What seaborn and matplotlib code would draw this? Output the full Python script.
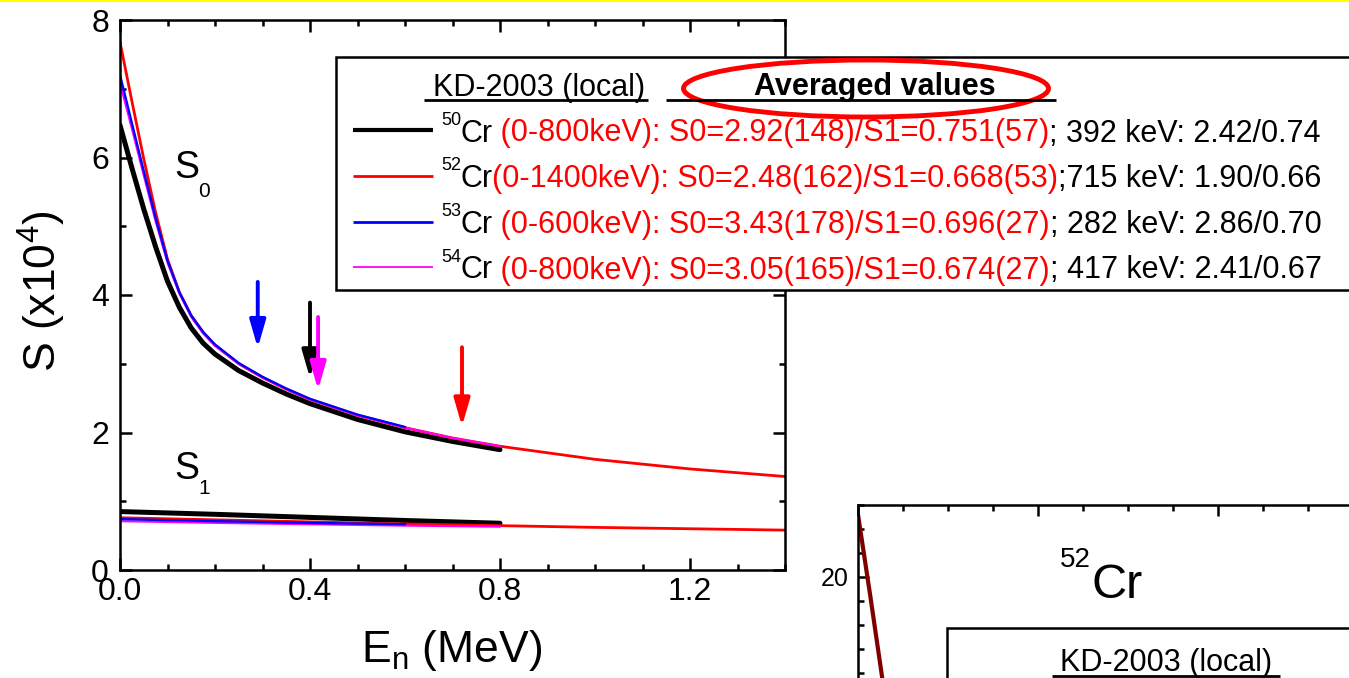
import numpy as np
import pandas as pd
import matplotlib
matplotlib.use("Agg")
import matplotlib.pyplot as plt
import seaborn as sns
from matplotlib.patches import Rectangle, Ellipse
from matplotlib.ticker import MultipleLocator, FormatStrFormatter, FixedLocator

# ------------------------------------------------------------------ data
isotopes = ["50", "52", "53", "54"]
colors = ["#000000", "#ff0000", "#0000ff", "#ff00ff"]
range_keV = [800, 1400, 600, 800]
S0_fit = ["2.92(148)", "2.48(162)", "3.43(178)", "3.05(165)"]
S1_fit = ["0.751(57)", "0.668(53)", "0.696(27)", "0.674(27)"]
E_avg_keV = [392, 715, 282, 417]
S0_avg = ["2.42", "1.90", "2.86", "2.41"]
S1_avg = ["0.74", "0.66", "0.70", "0.67"]

# S0 curves (x10^4) vs E (MeV)
E_grid = [0, 0.025, 0.05, 0.075, 0.1, 0.125, 0.15, 0.175, 0.2, 0.25, 0.3,
          0.35, 0.4, 0.5, 0.6, 0.7, 0.8, 1.0, 1.2, 1.4]
S0_50 = [6.47, 5.85, 5.25, 4.70, 4.20, 3.82, 3.52, 3.30, 3.14, 2.90, 2.72,
         2.56, 2.42, 2.19, 2.01, 1.87, 1.75]
S0_52 = [7.68, 6.82, 5.98, 5.20, 4.52, 4.04, 3.70, 3.46, 3.27, 3.00, 2.80,
         2.63, 2.48, 2.25, 2.07, 1.92, 1.80, 1.61, 1.47, 1.36]
S0_53 = [7.20, 6.50, 5.80, 5.12, 4.50, 4.04, 3.70, 3.46, 3.28, 3.01, 2.81,
         2.64, 2.49, 2.26, 2.08]
S0_54 = [7.08, 6.42, 5.74, 5.07, 4.47, 4.02, 3.68, 3.44, 3.26, 3.00, 2.80,
         2.63, 2.48, 2.25, 2.07, 1.92, 1.80]

# S1 curves (x10^4)
E_s1 = [0, 0.2, 0.4, 0.6, 0.8, 1.0, 1.2, 1.4]
S1_50 = [0.85, 0.81, 0.765, 0.72, 0.68]
S1_52 = [0.76, 0.73, 0.70, 0.67, 0.645, 0.62, 0.60, 0.58]
S1_53 = [0.74, 0.71, 0.685, 0.665]
S1_54 = [0.71, 0.685, 0.665, 0.645, 0.63]

# arrows marking averaging energies (position in MeV, tail / tip in S units)
arrow_E = [0.40, 0.72, 0.29, 0.417]
arrow_top = [3.89, 3.24, 4.19, 3.68]
arrow_tip = [2.79, 2.09, 3.23, 2.62]

# second panel (52Cr)
E2 = [0, 0.027, 0.06]
S2 = [22.6, 19.25, 15.0]

S0_all = [S0_50, S0_52, S0_53, S0_54]
S1_all = [S1_50, S1_52, S1_53, S1_54]

rows = []
for iso, s0, s1 in zip(isotopes, S0_all, S1_all):
    for e, v in zip(E_grid, s0):
        rows.append(dict(iso=iso, kind="S0", E=e, S=v))
    for e, v in zip(E_s1, s1):
        rows.append(dict(iso=iso, kind="S1", E=e, S=v))
df = pd.DataFrame(rows)

# ------------------------------------------------------------------ style
sns.set_theme(style="ticks")
plt.rcParams["font.family"] = ["Liberation Sans", "DejaVu Sans"]
plt.rcParams["mathtext.fontset"] = "custom"
plt.rcParams["mathtext.rm"] = "Liberation Sans"
plt.rcParams["mathtext.it"] = "Liberation Sans:italic"
plt.rcParams["mathtext.bf"] = "Liberation Sans:bold"
plt.rcParams["axes.linewidth"] = 1.8
TICKFONT = ["Liberation Sans Narrow", "Liberation Sans"]

W, H = 1349, 678
fig = plt.figure(figsize=(W / 100, H / 100), dpi=100)
fig.patch.set_facecolor("white")


def fpos(l, t, r, b):
    return [l / W, 1 - b / H, (r - l) / W, (b - t) / H]


# ------------------------------------------------------------------ main axes
ax = fig.add_axes(fpos(120, 20, 785, 570))
ax.set_facecolor("white")
lw_map = {"50": 3.6, "52": 2.0, "53": 1.7, "54": 1.5}
order = ["50", "52", "54", "53"]
for kind in ["S0", "S1"]:
    for iso in order:
        sub = df[(df.iso == iso) & (df.kind == kind)]
        sns.lineplot(data=sub, x="E", y="S", ax=ax, color=colors[isotopes.index(iso)],
                     lw=lw_map[iso], estimator=None, sort=False, legend=False)

for i, iso in enumerate(isotopes):
    e = arrow_E[i]
    ax.annotate("", xy=(e, arrow_tip[i]), xytext=(e, arrow_top[i]),
                arrowprops=dict(arrowstyle="-|>,head_length=0.83,head_width=0.24",
                                mutation_scale=20, lw=2.8, color=colors[i],
                                shrinkA=0, shrinkB=0))

ax.set_xlim(0, 1.4)
ax.set_ylim(0, 8)
ax.xaxis.set_major_locator(MultipleLocator(0.4))
ax.xaxis.set_minor_locator(MultipleLocator(0.1))
ax.yaxis.set_major_locator(MultipleLocator(2))
ax.yaxis.set_minor_locator(MultipleLocator(1))
ax.xaxis.set_major_formatter(FormatStrFormatter("%.1f"))
ax.yaxis.set_major_formatter(FormatStrFormatter("%d"))
ax.tick_params(which="both", direction="in", top=True, right=True, width=1.8,
               colors="black", labelsize=23, labelfontfamily=TICKFONT)
ax.tick_params(which="major", length=8.6)
ax.tick_params(which="minor", length=4.3)
ax.tick_params(axis="x", pad=5)
ax.tick_params(axis="y", pad=8)
for sp in ax.spines.values():
    sp.set_color("black")
    sp.set_linewidth(1.8)

ax.set_xlabel(r"E$_{\mathrm{n}}$ (MeV)", fontsize=32, color="black")
ax.set_ylabel(r"S (x10$^{4}$)", fontsize=32, color="black")
ax.xaxis.set_label_coords(0.499, -0.105)
ax.yaxis.set_label_coords(-0.078, 0.507)

ax.text(0.1137, 5.70, "S", fontsize=27, va="baseline", ha="left", color="black")
ax.text(0.164, 5.43, "0", fontsize=15, va="baseline", ha="left", color="black")
ax.text(0.1137, 1.32, "S", fontsize=27, va="baseline", ha="left", color="black")
ax.text(0.164, 1.105, "1", fontsize=15, va="baseline", ha="left", color="black")

# ------------------------------------------------------------------ second panel
ax2 = fig.add_axes(fpos(858, 505, 858 + 630, 505 + 216))
ax2.set_facecolor("white")
sns.lineplot(x=E2, y=S2, ax=ax2, color="#800000", lw=3.0, estimator=None,
             sort=False, legend=False)
ax2.set_xlim(0, 1.4)
ax2.set_ylim(14, 23)
ax2.xaxis.set_major_locator(MultipleLocator(0.4))
ax2.xaxis.set_minor_locator(MultipleLocator(0.1))
ax2.yaxis.set_major_locator(FixedLocator([20]))
ax2.yaxis.set_minor_locator(MultipleLocator(1))
ax2.tick_params(which="both", direction="in", top=True, right=True, width=1.8,
                colors="black", labelsize=18, labelbottom=False,
                labelfontfamily=TICKFONT)
ax2.tick_params(which="major", length=8)
ax2.tick_params(which="minor", length=4.3)
ax2.tick_params(axis="y", pad=7)
for sp in ax2.spines.values():
    sp.set_color("black")
    sp.set_linewidth(1.8)
ax2.set_xlabel("")
ax2.set_ylabel("")

# ------------------------------------------------------------------ overlay (legends, annotations)
ov = fig.add_axes([0, 0, 1, 1])
ov.set_xlim(0, W)
ov.set_ylim(H, 0)
ov.axis("off")

ov.plot([0, W], [1, 1], color="#ffff00", lw=1.5, solid_capstyle="butt")

ov.add_patch(Rectangle((336, 57), 1100, 233, fc="white", ec="black", lw=1.8))
ov.text(433, 96, "KD-2003 (local)", fontsize=22, va="baseline", ha="left", color="black")
ov.plot([424, 648], [100, 100], color="black", lw=2.0, solid_capstyle="butt")
ov.text(875, 95, "Averaged values", fontsize=22, fontweight="bold", va="baseline",
        ha="center", color="black")
ov.plot([666, 1056], [100, 100], color="black", lw=2.0, solid_capstyle="butt")
ov.add_patch(Ellipse((866, 88.5), 365, 57, fc="none", ec="#ff0000", lw=3.5))

line_y = [130, 176, 222, 267]
base_y = [141.5, 187, 233, 278.5]
sample_lw = [3.0, 2.0, 2.0, 1.3]
for i, iso in enumerate(isotopes):
    ov.plot([353, 433], [line_y[i], line_y[i]], color=colors[i], lw=sample_lw[i],
            solid_capstyle="butt")
    ov.text(461, base_y[i] - 16.5, iso, fontsize=13, va="baseline", ha="right", color="black")
    sep = "" if range_keV[i] >= 1000 else " "
    segs = [("Cr", "black"),
            (f"{sep}(0-{range_keV[i]}keV): S0={S0_fit[i]}/S1={S1_fit[i]}", "#ff0000"),
            (f";{sep}{E_avg_keV[i]} keV: {S0_avg[i]}/{S1_avg[i]}", "black")]
    prev = None
    for s, c in segs:
        if prev is None:
            prev = ov.text(460, base_y[i], s, fontsize=22, va="baseline", ha="left", color=c)
        else:
            prev = ov.annotate(s, xy=(1, 0), xycoords=prev, va="bottom", ha="left",
                               fontsize=22, color=c)

# second panel annotations
ov.text(1091, 567, "52", fontsize=20, va="baseline", ha="right", color="black")
ov.text(1091, 598, "Cr", fontsize=35, va="baseline", ha="left", color="black")
ov.add_patch(Rectangle((947, 628), 600, 200, fc="white", ec="black", lw=1.8))
ov.text(1166, 671, "KD-2003 (local)", fontsize=22, va="baseline", ha="center", color="black")
ov.plot([1052, 1280], [676, 676], color="black", lw=2.0, solid_capstyle="butt")

fig.savefig("out.png", dpi=100, facecolor="white")
